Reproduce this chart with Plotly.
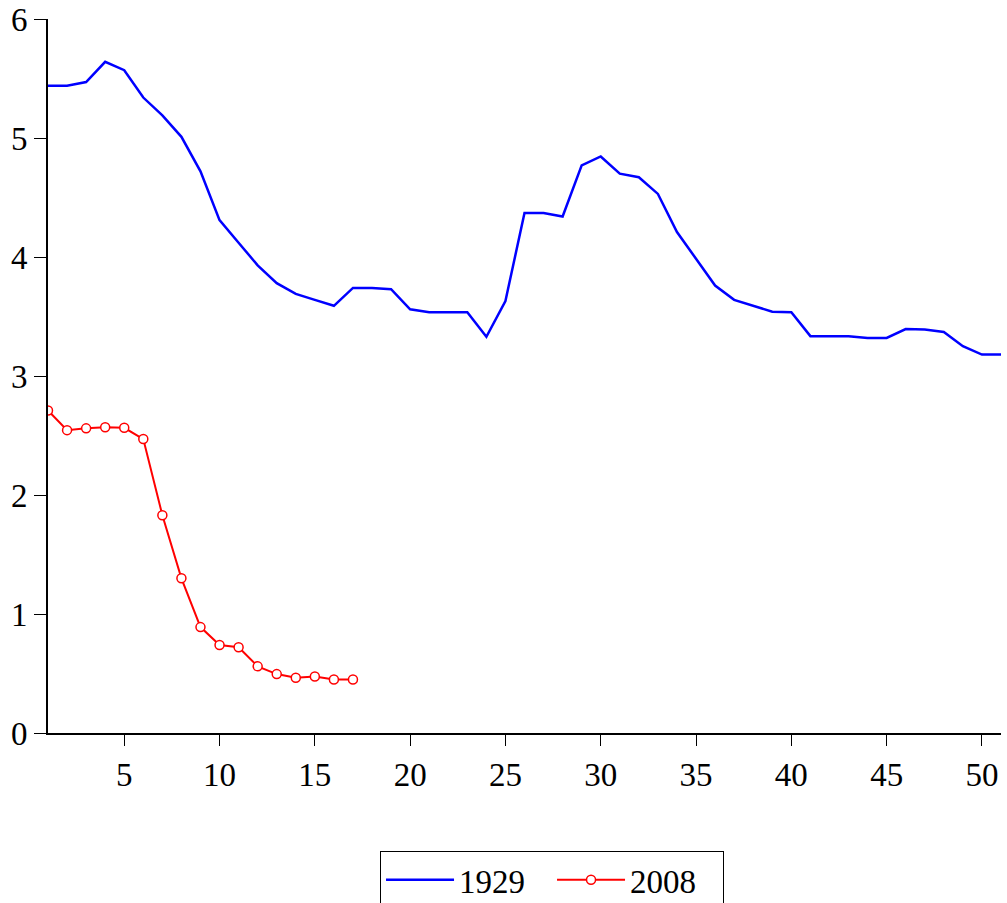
import plotly.graph_objects as go

# Period index (months since start of each crisis)
periods_1929 = list(range(1, 52))
periods_2008 = list(range(1, 18))

values_1929 = [
    5.44, 5.44, 5.47, 5.64, 5.57, 5.34, 5.19, 5.01, 4.72, 4.31,
    4.12, 3.93, 3.78, 3.69, 3.64, 3.59, 3.74, 3.74, 3.73, 3.56,
    3.535, 3.535, 3.535, 3.33, 3.63, 4.37, 4.37, 4.34, 4.77, 4.845,
    4.70, 4.67, 4.53, 4.21, 3.98, 3.76, 3.64, 3.59, 3.54, 3.535,
    3.335, 3.335, 3.335, 3.32, 3.32, 3.395, 3.39, 3.37, 3.25, 3.18,
    3.18,
]
values_2008 = [
    2.71, 2.545, 2.56, 2.57, 2.565, 2.47, 1.83, 1.30, 0.89, 0.74,
    0.72, 0.56, 0.495, 0.465, 0.475, 0.45, 0.45,
]

y_ticks = [0, 1, 2, 3, 4, 5, 6]
x_ticks = [5, 10, 15, 20, 25, 30, 35, 40, 45, 50]

FONT = "Liberation Serif, Times New Roman, serif"
FSIZE = 33

fig = go.Figure()
fig.add_trace(go.Scatter(
    x=periods_1929, y=values_1929, name="1929", mode="lines",
    line=dict(color="#0000ff", width=2.5),
))
fig.add_trace(go.Scatter(
    x=periods_2008, y=values_2008, name="2008", mode="lines+markers",
    line=dict(color="#ff0000", width=2),
    marker=dict(symbol="circle", size=9, color="white",
                line=dict(color="#ff0000", width=1.5)),
))

fig.update_layout(
    width=1007, height=903,
    margin=dict(l=48, r=6, t=19, b=170, autoexpand=False),
    plot_bgcolor="white", paper_bgcolor="white",
    font=dict(family=FONT, size=FSIZE, color="black"),
    showlegend=True,
    legend=dict(
        orientation="h",
        x=0.3484, xanchor="left",
        y=-0.165, yanchor="top",
        bordercolor="black", borderwidth=1,
        bgcolor="white",
        font=dict(family=FONT, size=FSIZE, color="black"),
        itemwidth=68,
        entrywidth=88,
    ),
    xaxis=dict(
        range=[1, 51], tickvals=x_ticks, ticktext=[str(v) for v in x_ticks],
        showgrid=False, zeroline=False,
        showline=True, linecolor="black", linewidth=2,
        ticks="outside", ticklen=11, tickwidth=1, tickcolor="black",
        tickfont=dict(family=FONT, size=FSIZE, color="black"),
    ),
    yaxis=dict(
        range=[0, 6], tickvals=y_ticks, ticktext=[str(v) for v in y_ticks],
        showgrid=False, zeroline=False,
        showline=True, linecolor="black", linewidth=2,
        ticks="outside", ticklen=12, tickwidth=1, tickcolor="black",
        tickfont=dict(family=FONT, size=FSIZE, color="black"),
    ),
)

fig.write_html("out.html")
